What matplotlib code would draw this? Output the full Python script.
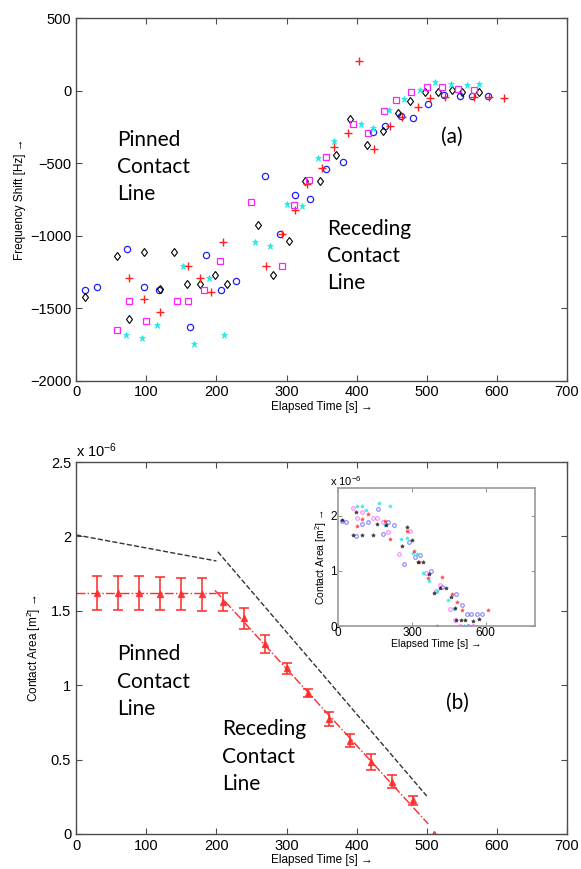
import numpy as np
import matplotlib
matplotlib.use("Agg")
import matplotlib.pyplot as plt

plt.rcParams["font.family"] = ["Liberation Sans", "DejaVu Sans"]
plt.rcParams["mathtext.default"] = "regular"

# (a) frequency shift per run: time [s], shift [Hz]
blue_t = [13, 30, 73, 97, 118, 162, 185, 207, 228, 269, 290, 312, 334, 357, 380,
          424, 440, 463, 480, 502, 524, 548, 564, 587]
blue_f = [-1373, -1355, -1092, -1355, -1378, -1631, -1134, -1373, -1313, -591, -991,
          -720, -748, -541, -495, -284, -241, -172, -186, -89, -32, -37, -37, -37]
black_t = [13, 58, 75, 97, 120, 140, 158, 176, 198, 215, 259, 281, 303, 326, 348,
           370, 391, 415, 437, 459, 476, 498, 516, 536, 550, 574]
black_f = [-1424, -1143, -1576, -1115, -1369, -1115, -1334, -1334, -1270, -1334, -926,
           -1270, -1039, -626, -626, -445, -197, -376, -275, -156, -73, -11, -11, 5,
           -9, -9]
red_t = [75, 97, 120, 160, 176, 192, 210, 271, 294, 312, 329, 350, 368, 387, 403,
         425, 448, 464, 487, 504, 526, 567, 589, 610]
red_f = [-1295, -1438, -1528, -1207, -1295, -1392, -1046, -1207, -991, -821, -645,
         -535, -390, -289, 206, -399, -243, -184, -115, -50, -41, -41, -41, -50]
mag_t = [59, 76, 99, 144, 160, 182, 205, 249, 293, 310, 332, 356, 395, 416, 439,
         456, 478, 500, 522, 545, 567]
mag_f = [-1654, -1452, -1590, -1452, -1452, -1376, -1175, -770, -1210, -789, -615,
         -454, -229, -294, -142, -62, -9, 23, 23, 14, 5]
cyan_t = [71, 94, 116, 152, 168, 189, 211, 255, 277, 300, 322, 345, 367, 406, 423,
          446, 468, 490, 512, 534, 558, 574]
cyan_f = [-1684, -1705, -1613, -1210, -1744, -1295, -1684, -1046, -1069, -780, -794,
          -461, -349, -229, -259, -133, -60, 5, 60, 46, 37, 46]

# (b) mean contact area [1e-6 m^2] with error bars
area_t = [30, 60, 90, 120, 150, 180, 210, 240, 270, 300, 330, 360, 390, 420, 450,
          480, 510]
area = [1.622, 1.620, 1.620, 1.615, 1.613, 1.612, 1.561, 1.45, 1.277, 1.113, 0.945,
        0.773, 0.627, 0.486, 0.352, 0.228, 0.0]
area_err = [0.115, 0.115, 0.115, 0.11, 0.11, 0.11, 0.06, 0.07, 0.06, 0.035, 0.027,
            0.05, 0.042, 0.053, 0.044, 0.03, 0.0]
# model lines (pinned / receding)
model_pin_t = [0, 200]
model_pin_a = [2.01, 1.835]
model_rec_t = [202, 500]
model_rec_a = [1.897, 0.255]

# inset: contact area per run [1e-6 m^2]
in_blue_t = [14, 30, 72, 95, 120, 164, 183, 204, 228, 267, 289, 312, 332, 377, 423,
             479, 502, 525, 542, 563, 585, 530]
in_blue_a = [1.90, 1.885, 1.64, 1.85, 1.885, 2.12, 1.67, 1.885, 1.825, 1.12, 1.52,
             1.25, 1.29, 1.0, 0.70, 0.576, 0.382, 0.227, 0.227, 0.227, 0.227, 0.0]
in_mag_t = [59, 75, 98, 143, 160, 181, 204, 248, 292, 357, 397, 416, 454, 476, 495,
            550]
in_mag_a = [2.15, 1.955, 2.07, 1.955, 1.955, 1.897, 1.70, 1.30, 1.73, 0.958, 0.637,
            0.745, 0.318, 0.109, 0.0, 0.0]
in_cyan_t = [75, 95, 115, 165, 210, 190, 254, 278, 303, 321, 346, 368, 403, 445, 471,
             510]
in_cyan_a = [2.17, 2.18, 2.11, 2.23, 2.17, 1.825, 1.58, 1.60, 1.32, 1.31, 0.958, 0.82,
             0.637, 0.473, 0.31, 0.0]
in_red_t = [75, 95, 122, 190, 210, 282, 308, 330, 366, 423, 464, 484, 502, 610, 402]
in_red_a = [1.82, 1.945, 2.03, 1.91, 1.58, 1.73, 1.36, 1.16, 0.88, 0.89, 0.576, 0.443,
            0.285, 0.285, 0.0]
in_black_t = [14, 59, 72, 98, 143, 156, 194, 259, 281, 301, 326, 346, 369, 391, 414,
              437, 459, 475, 479, 498, 516, 549, 572]
in_black_a = [1.93, 1.66, 2.07, 1.65, 1.65, 1.85, 1.83, 1.46, 1.79, 1.57, 1.16, 1.16,
              0.94, 0.597, 0.697, 0.697, 0.533, 0.333, 0.109, 0.109, 0.109, 0.09, 0.127]

note_font = ["Lato", "DejaVu Sans"]
arrow_font = ["Liberation Sans", "DejaVu Sans"]
spine_col = "0.3"


def style_axes(ax, size):
    for s in ax.spines.values():
        s.set_color(spine_col)
        s.set_linewidth(1.0)
    ax.tick_params(direction="in", top=True, right=True, length=4, width=0.8,
                   colors=spine_col, labelcolor="black", labelsize=size)


fig = plt.figure(figsize=(5.81, 8.69), dpi=100)

# ---- (a) frequency shift ----
ax1 = fig.add_axes([0.131, 0.562, 0.845, 0.417])
ax1.plot(blue_t, blue_f, "o", ls="none", mfc="none", mec="#2020ff", ms=4.5, mew=0.9)
ax1.plot(black_t, black_f, "d", ls="none", mfc="none", mec="black", ms=4.5, mew=0.8)
ax1.plot(red_t, red_f, "+", ls="none", color="#ff2020", ms=6, mew=1.0)
ax1.plot(mag_t, mag_f, "s", ls="none", mfc="none", mec="#ff20ff", ms=4, mew=0.9)
ax1.plot(cyan_t, cyan_f, "*", ls="none", color="#20e8e8", ms=5, mew=0.5)
ax1.set_xlim(0, 700)
ax1.set_ylim(-2000, 500)
ax1.set_xticks(np.arange(0, 701, 100))
ax1.set_yticks(np.arange(-2000, 501, 500))
style_axes(ax1, 10.5)
ax1.set_xlabel("Elapsed Time [s] →", fontsize=8.5, labelpad=1, family=arrow_font)
ax1.set_ylabel("Frequency Shift [Hz] →", fontsize=8.5, labelpad=3, family=arrow_font)
ax1.text(58, -525, "Pinned\nContact\nLine", fontsize=15, family=note_font,
         va="center", ha="left", linespacing=1.45)
ax1.text(358, -1142, "Receding\nContact\nLine", fontsize=15, family=note_font,
         va="center", ha="left", linespacing=1.45)
ax1.text(535, -316, "(a)", fontsize=15, family=note_font, va="center", ha="center")

# ---- (b) contact area ----
ax2 = fig.add_axes([0.131, 0.0403, 0.845, 0.428])
red = "#ff2a2a"
pin = np.array(area[:6])
ax2.plot([0, 200], [pin.mean(), pin.mean()], ls="-.", color=red, lw=1.0)
fit = np.polyfit(area_t[6:], area[6:], 1)
rec_t = np.array([198, 502])
ax2.plot(rec_t, np.polyval(fit, rec_t), ls="-.", color=red, lw=1.0)
ax2.errorbar(area_t[:-1], area[:-1], yerr=area_err[:-1], fmt="^", color=red,
             ms=4, capsize=3.5, elinewidth=1.3, capthick=1.3, alpha=0.85)
ax2.plot(area_t[-1:], area[-1:], "^", mfc="#ffb0b0", mec=red, ms=5)
ax2.plot(model_pin_t, model_pin_a, "--", color="0.2", lw=1.0)
ax2.plot(model_rec_t, model_rec_a, "--", color="0.2", lw=1.0)
ax2.set_xlim(0, 700)
ax2.set_ylim(0, 2.5)
ax2.set_xticks(np.arange(0, 701, 100))
ax2.set_yticks([0, 0.5, 1, 1.5, 2, 2.5])
ax2.set_yticklabels(["0", "0.5", "1", "1.5", "2", "2.5"])
style_axes(ax2, 10.5)
ax2.text(0.0, 1.005, "x 10$^{-6}$", transform=ax2.transAxes, fontsize=10.5,
         va="bottom", ha="left")
ax2.set_xlabel("Elapsed Time [s] →", fontsize=8.5, labelpad=1, family=arrow_font)
ax2.set_ylabel("Contact Area [m$^2$] →", fontsize=8.5, labelpad=6, family=arrow_font)
ax2.text(59, 1.024, "Pinned\nContact\nLine", fontsize=15, family=note_font,
         va="center", ha="left", linespacing=1.45)
ax2.text(208, 0.52, "Receding\nContact\nLine", fontsize=15, family=note_font,
         va="center", ha="left", linespacing=1.45)
ax2.text(544, 0.878, "(b)", fontsize=15, family=note_font, va="center", ha="center")

# ---- inset: all runs ----
ax3 = fig.add_axes([0.582, 0.2796, 0.3386, 0.1585])
kw = dict(ls="none", ms=2.6, alpha=0.55, mew=0.8)
ax3.plot(in_blue_t, in_blue_a, "o", color="#2020ff", mfc="none", **kw)
ax3.plot(in_mag_t, in_mag_a, "o", color="#ff20ff", mfc="none", **kw)
ax3.plot(in_cyan_t, in_cyan_a, "*", color="#10e0e0", **kw)
ax3.plot(in_red_t, in_red_a, "*", color="#ff2020", **kw)
ax3.plot(in_black_t, in_black_a, "*", color="black", **kw)
ax3.set_xlim(0, 800)
ax3.set_ylim(0, 2.5)
ax3.set_xticks([0, 300, 600])
ax3.set_yticks([0, 1, 2])
for s in ax3.spines.values():
    s.set_color("0.6")
    s.set_linewidth(1.2)
ax3.tick_params(direction="in", top=True, right=True, length=3, width=0.6,
                colors="0.5", labelcolor="black", labelsize=8.5, pad=1)
ax3.text(-0.04, 1.0, "x 10$^{-6}$", transform=ax3.transAxes, fontsize=8,
         va="bottom", ha="left")
ax3.set_xlabel("Elapsed Time [s] →", fontsize=7.5, labelpad=0, family=arrow_font)
ax3.set_ylabel("Contact Area [m$^2$] →", fontsize=7.5, labelpad=1, family=arrow_font)

fig.savefig("out.png", dpi=100)
